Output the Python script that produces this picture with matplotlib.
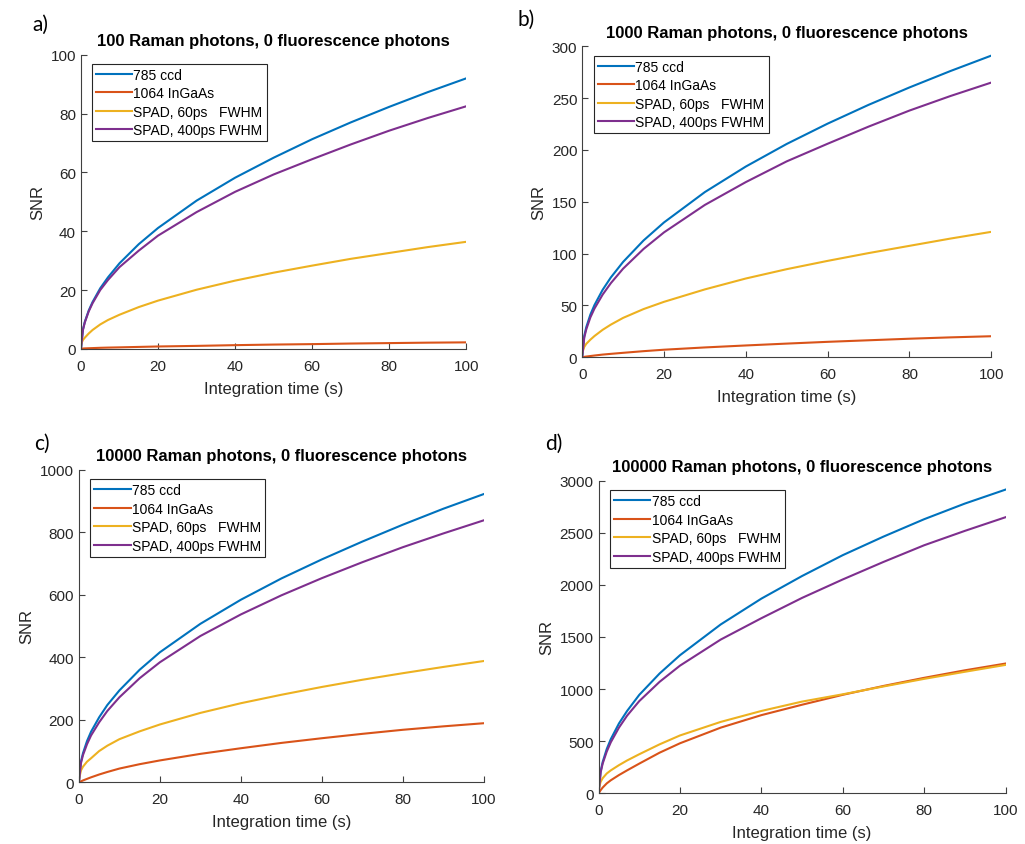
import matplotlib
matplotlib.use("Agg")
import matplotlib.pyplot as plt

plt.rcParams['font.family'] = ['Liberation Sans', 'DejaVu Sans']

t = [0, 0.5, 1, 2, 3, 5, 7, 10, 15, 20, 30, 40, 50, 60, 70, 80, 90, 100]

# a) 100 Raman photons
a_ccd = [0, 6.5, 9.2, 13.0, 15.9, 20.6, 24.3, 29.1, 35.6, 41.1, 50.4, 58.2, 65.0, 71.3, 77.0, 82.3, 87.3, 92.0]
a_ingaas = [0, 0.1, 0.15, 0.2, 0.25, 0.35, 0.42, 0.5, 0.65, 0.8, 1.0, 1.25, 1.45, 1.6, 1.8, 1.95, 2.1, 2.2]
a_spad60 = [1.5, 3.0, 3.8, 5.2, 6.4, 8.3, 9.8, 11.6, 14.2, 16.4, 20.1, 23.2, 25.9, 28.3, 30.6, 32.6, 34.6, 36.4]
a_spad400 = [0, 6.4, 9.0, 12.7, 15.5, 20.0, 23.4, 27.8, 33.4, 38.5, 46.5, 53.4, 59.3, 64.5, 69.5, 74.2, 78.5, 82.5]

# b) 1000 Raman photons
b_ccd = [0, 20.6, 29.1, 41.2, 50.4, 65.1, 77, 92, 112.7, 130.1, 159.4, 184, 205.8, 225.4, 243.5, 260.3, 276.1, 291]
b_ingaas = [0, 0.4, 0.7, 1.2, 1.7, 2.6, 3.3, 4.3, 5.9, 7.3, 9.5, 11.4, 13.2, 14.9, 16.4, 17.9, 19.2, 20.3]
b_spad60 = [4, 10, 13, 17, 20.5, 26.5, 31.5, 38, 46.5, 53.5, 65.5, 76, 85, 93, 100.5, 107.5, 114.5, 121]
b_spad400 = [0, 19, 27, 38.5, 47, 60.5, 71.5, 85.5, 104.5, 120.5, 147, 169, 189, 206, 222.5, 238, 252, 265]

# c) 10000 Raman photons
c_ccd = [0, 66, 93, 132, 162, 208, 247, 294, 360, 416, 507, 584, 652, 713, 770, 824, 875, 922]
c_ingaas = [0, 3, 6, 11, 16, 25, 33, 44, 58, 70, 91, 109, 126, 141, 155, 168, 179, 189]
c_spad60 = [8, 38, 50, 66, 77, 100, 117, 138, 163, 185, 222, 253, 280, 305, 328, 349, 369, 388]
c_spad400 = [0, 61, 87, 122, 150, 192, 228, 272, 333, 384, 468, 537, 598, 653, 704, 752, 796, 838]

# d) 100000 Raman photons
d_ccd = [0, 210, 300, 425, 520, 670, 790, 945, 1150, 1325, 1620, 1868, 2085, 2285, 2463, 2630, 2780, 2914]
d_ingaas = [0, 30, 55, 95, 125, 175, 220, 285, 390, 480, 630, 750, 850, 945, 1030, 1108, 1180, 1245]
d_spad60 = [40, 110, 145, 190, 220, 270, 315, 375, 470, 555, 685, 790, 880, 950, 1025, 1098, 1166, 1232]
d_spad400 = [0, 200, 285, 400, 490, 630, 745, 885, 1070, 1225, 1475, 1680, 1875, 2052, 2220, 2380, 2518, 2649]

labels = ['785 ccd', '1064 InGaAs', 'SPAD, 60ps   FWHM', 'SPAD, 400ps FWHM']
colors = ['#0072BD', '#D95319', '#EDB120', '#7E2F8E']

paineis = [
    ('a)', '100 Raman photons, 0 fluorescence photons', [a_ccd, a_ingaas, a_spad60, a_spad400], 100, 20),
    ('b)', '1000 Raman photons, 0 fluorescence photons', [b_ccd, b_ingaas, b_spad60, b_spad400], 300, 50),
    ('c)', '10000 Raman photons, 0 fluorescence photons', [c_ccd, c_ingaas, c_spad60, c_spad400], 1000, 200),
    ('d)', '100000 Raman photons, 0 fluorescence photons', [d_ccd, d_ingaas, d_spad60, d_spad400], 3000, 500),
]

posicoes = [
    [0.079, 0.586, 0.376, 0.348],
    [0.568, 0.576, 0.399, 0.368],
    [0.077, 0.073, 0.395, 0.370],
    [0.584, 0.060, 0.397, 0.370],
]
# panel letter positions (figure fraction)
letras = [(0.032, 0.970), (0.505, 0.976), (0.033, 0.475), (0.532, 0.475)]

fig = plt.figure(figsize=(10.25, 8.45), dpi=100)
cinza = '#262626'

for (letra, titulo, series, ymax, ystep), pos, lpos in zip(paineis, posicoes, letras):
    ax = fig.add_axes(pos)
    for y, lab, cor in zip(series, labels, colors):
        ax.plot(t, y, color=cor, linewidth=1.5, label=lab)

    ax.set_xlim(0, 100)
    ax.set_ylim(0, ymax)
    ax.set_xticks(range(0, 101, 20))
    ax.set_yticks(range(0, ymax + 1, ystep))

    # estilo MATLAB: sem caixa, ticks para dentro
    ax.spines['top'].set_visible(False)
    ax.spines['right'].set_visible(False)
    for lado in ['left', 'bottom']:
        ax.spines[lado].set_color('#404040')
        ax.spines[lado].set_linewidth(0.8)
    ax.tick_params(direction='in', length=4, width=0.8, colors='#404040',
                   labelcolor=cinza, labelsize=11)
    ax.tick_params(axis='x', pad=7)

    ax.set_title(titulo, fontsize=12, fontweight='bold', color='black', pad=7)
    ax.set_xlabel('Integration time (s)', fontsize=12, color=cinza, labelpad=6)
    ax.set_ylabel('SNR', fontsize=12, color=cinza)

    leg = ax.legend(loc='upper left', bbox_to_anchor=(0.028, 0.97), borderaxespad=0,
                    fontsize=10, handlelength=2.6, handletextpad=0.1,
                    labelspacing=0.32, borderpad=0.3, fancybox=False,
                    edgecolor=cinza, framealpha=1)
    leg.get_frame().set_linewidth(0.8)

    fig.text(lpos[0], lpos[1], letra, fontsize=15, family=['Lato', 'DejaVu Sans'],
             ha='left', va='center')

fig.savefig('out.png', dpi=100, facecolor='white')
